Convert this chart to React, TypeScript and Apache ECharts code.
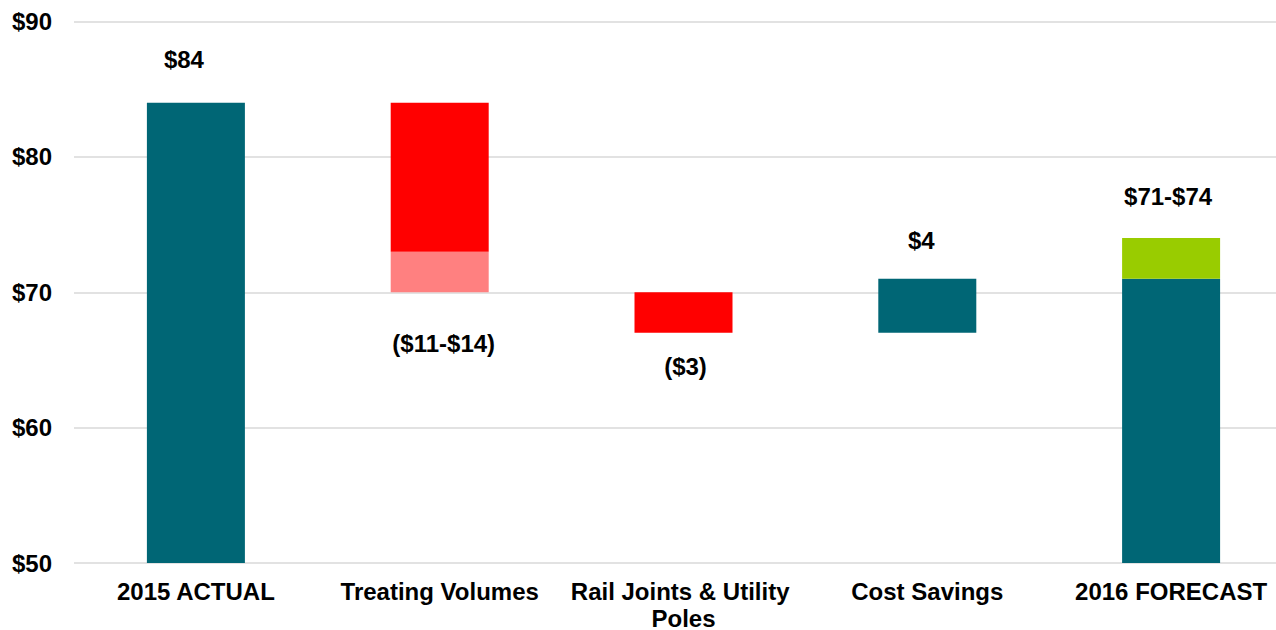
import React, { useEffect, useRef } from "react";
import * as echarts from "echarts";

const categories = ["2015 ACTUAL", "Treating Volumes", "Rail Joints & Utility Poles", "Cost Savings", "2016 FORECAST"];
const baseValues = [0, 70, 67, 67, 0];
const tealValues: (number | string)[] = [84, "-", "-", 4, 71];
const lightRedValues: (number | string)[] = ["-", 3, "-", "-", "-"];
const redValues: (number | string)[] = ["-", 11, 3, "-", "-"];
const greenValues: (number | string)[] = ["-", "-", "-", "-", 3];
const valueLabels = ["$84", "($11-$14)", "($3)", "$4", "$71-$74"];
const yTicks = [50, 60, 70, 80, 90];

const FONT = "'Liberation Sans', Arial, sans-serif";

export default function App() {
  const ref = useRef<HTMLDivElement>(null);
  useEffect(() => {
    if (!ref.current) return;
    const chart = echarts.init(ref.current, undefined, { renderer: "svg" });

    const lbl = (text: string, position: string, distance: number, dx: number) => ({
      show: true,
      position,
      distance,
      offset: [dx, 0],
      formatter: text,
      color: "#000",
      fontFamily: FONT,
      fontWeight: "bold",
      fontSize: 24,
      lineHeight: 24,
    });

    // label placement per category: [series, position, distance, dx]
    const placement: Record<number, [string, string, number, number]> = {
      0: ["teal", "top", 31, -12],
      1: ["lightRed", "bottom", 39, 4],
      2: ["red", "bottom", 22, 2],
      3: ["teal", "top", 26, -6],
      4: ["green", "top", 30, -3],
    };

    const build = (name: string, vals: (number | string)[]) =>
      vals.map((v, i) => {
        const p = placement[i];
        if (p && p[0] === name && v !== "-") {
          return { value: v, label: lbl(valueLabels[i], p[1], p[2], p[3]) };
        }
        return v;
      });

    const barCommon = { type: "bar", stack: "total", barWidth: 98 };

    chart.setOption({
      animation: false,
      grid: { left: 74, top: 21.5, width: 1219, height: 541.5, containLabel: false },
      xAxis: {
        type: "category",
        data: categories,
        axisLine: { show: false },
        axisTick: { show: false },
        axisLabel: {
          color: "#000",
          fontFamily: FONT,
          fontWeight: "bold",
          fontSize: 24,
          lineHeight: 27,
          margin: 15,
          width: 235,
          overflow: "break",
          interval: 0,
        },
      },
      yAxis: {
        type: "value",
        min: yTicks[0],
        max: yTicks[yTicks.length - 1],
        interval: 10,
        axisLine: { show: false },
        axisTick: { show: false },
        splitLine: { show: true, lineStyle: { color: "#d9d9d9", width: 1.5 } },
        axisLabel: {
          color: "#000",
          fontFamily: FONT,
          fontWeight: "bold",
          fontSize: 24,
          margin: 22,
          formatter: (v: number) => "$" + v,
        },
      },
      series: [
        { ...barCommon, name: "base", data: baseValues, itemStyle: { color: "transparent" }, silent: true },
        { ...barCommon, name: "teal", data: build("teal", tealValues), itemStyle: { color: "#006675" } },
        { ...barCommon, name: "lightRed", data: build("lightRed", lightRedValues), itemStyle: { color: "#ff8080" } },
        { ...barCommon, name: "red", data: build("red", redValues), itemStyle: { color: "#ff0000" } },
        { ...barCommon, name: "green", data: build("green", greenValues), itemStyle: { color: "#99cc00" } },
      ],
    });
    return () => chart.dispose();
  }, []);
  return (
    <div
      ref={ref}
      style={{ position: "fixed", left: 0, top: 0, width: 1300, height: 640, background: "#fff" }}
    />
  );
}
